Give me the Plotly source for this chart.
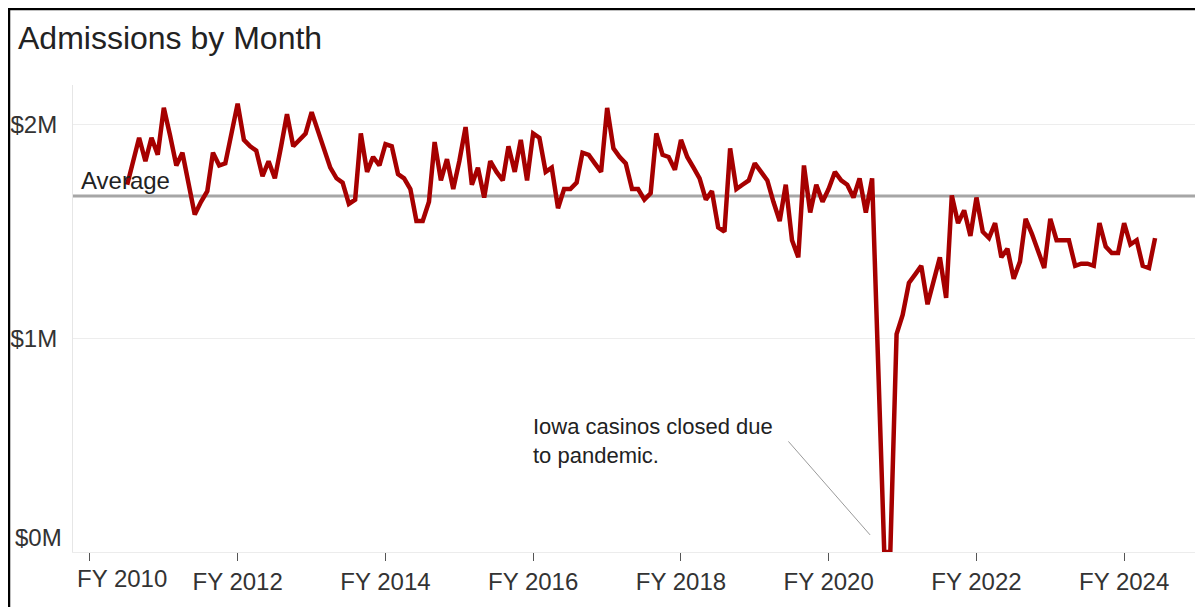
import pandas as pd
import plotly.graph_objects as go

# ---- data (monthly admissions, millions) ----
START_MONTH = "2010-01-01"
admissions_m = [
    1.72, 1.83, 1.94, 1.83, 1.94, 1.86, 2.08, 1.95, 1.81, 1.87, 1.72, 1.58,
    1.64, 1.69, 1.87, 1.81, 1.82, 1.96, 2.10, 1.93, 1.90, 1.88, 1.76, 1.83,
    1.75, 1.90, 2.05, 1.90, 1.93, 1.96, 2.06, 1.97, 1.88, 1.80, 1.75, 1.73,
    1.63, 1.65, 1.96, 1.78, 1.85, 1.81, 1.91, 1.90, 1.77, 1.75, 1.70, 1.55,
    1.55, 1.64, 1.92, 1.74, 1.84, 1.70, 1.83, 1.99, 1.72, 1.80, 1.66, 1.83,
    1.78, 1.74, 1.90, 1.78, 1.93, 1.74, 1.96, 1.94, 1.78, 1.80, 1.61, 1.70,
    1.70, 1.73, 1.87, 1.86, 1.82, 1.78, 2.08, 1.89, 1.85, 1.82, 1.70, 1.70,
    1.65, 1.68, 1.96, 1.86, 1.85, 1.79, 1.93, 1.85, 1.80, 1.75, 1.65, 1.69,
    1.52, 1.50, 1.89, 1.70, 1.72, 1.74, 1.82, 1.78, 1.74, 1.64, 1.55, 1.72,
    1.46, 1.38, 1.81, 1.59, 1.72, 1.64, 1.70, 1.78, 1.74, 1.72, 1.66, 1.75,
    1.59, 1.75, 0.88, 0.00, 0.00, 1.02, 1.11, 1.26, 1.30, 1.34, 1.16, 1.27,
    1.38, 1.19, 1.67, 1.54, 1.60, 1.48, 1.66, 1.50, 1.47, 1.54, 1.38, 1.42,
    1.28, 1.36, 1.56, 1.49, 1.41, 1.33, 1.56, 1.46, 1.46, 1.46, 1.34, 1.35,
    1.35, 1.34, 1.54, 1.43, 1.40, 1.40, 1.54, 1.44, 1.46, 1.34, 1.33, 1.47,
]
months = pd.date_range(START_MONTH, periods=len(admissions_m), freq="MS")

AVERAGE_M = 1.667

fy_tick_dates = ["2009-07-01", "2011-07-01", "2013-07-01", "2015-07-01",
                 "2017-07-01", "2019-07-01", "2021-07-01", "2023-07-01"]
fy_tick_labels = ["FY 2010", "FY 2012", "FY 2014", "FY 2016",
                  "FY 2018", "FY 2020", "FY 2022", "FY 2024"]

y_tick_vals = [0, 1, 2]
y_tick_labels = ["$0M", "$1M", "$2M"]

TITLE = "Admissions by Month"
NOTE = "Iowa casinos closed due<br>to pandemic."
NOTE_TARGET_DATE = "2020-01-22"
NOTE_TEXT_DATE = "2015-06-19"

FONT = "Arial, 'Liberation Sans', sans-serif"
RED = "#a60000"
TXT = "#333333"

# figure geometry (page body has an 8px margin)
W, H = 1195, 599
L, R, T, B = 65, 0, 77, 55
PW, PH = W - L - R, H - T - B

# first tick label and bottom y label are nudged inward (drawn as annotations)
x_ticktext = [""] + fy_tick_labels[1:]
y_ticktext = [""] + y_tick_labels[1:]

fig = go.Figure()
fig.add_trace(go.Scatter(
    x=months, y=admissions_m, mode="lines",
    line=dict(color=RED, width=4.5),
    hoverinfo="x+y", showlegend=False,
))

fig.update_layout(
    width=W, height=H,
    margin=dict(l=L, r=R, t=T, b=B),
    paper_bgcolor="white", plot_bgcolor="white",
    font=dict(family=FONT, color=TXT, size=24),
    title=dict(text=TITLE, x=10 / W, xanchor="left", y=1 - 30 / H,
               yanchor="middle",
               font=dict(family=FONT, size=32, color="#222222")),
    xaxis=dict(
        range=["2009-04-08", "2024-07-25"],
        tickvals=fy_tick_dates, ticktext=x_ticktext,
        ticks="outside", ticklen=8, tickwidth=1, tickcolor="#555555",
        showgrid=False, zeroline=False,
        showline=True, linecolor="#ececec", linewidth=1,
        tickfont=dict(size=24, color=TXT),
    ),
    yaxis=dict(
        range=[0, 2.187],
        tickvals=y_tick_vals, ticktext=y_ticktext,
        ticks="", showgrid=True, gridcolor="#ededed", gridwidth=1,
        zeroline=False, showline=True, linecolor="#e6e6e6", linewidth=1,
        ticklabelstandoff=10,
        tickfont=dict(size=24, color=TXT),
    ),
    shapes=[
        dict(type="line", xref="paper", yref="y", x0=0, x1=1,
             y0=AVERAGE_M, y1=AVERAGE_M, layer="below",
             line=dict(color="#a6a6a6", width=3)),
        dict(type="rect", xref="paper", yref="paper",
             x0=-(L - 1) / PW, x1=(PW - 3) / PW,
             y0=-(B + 20) / PH, y1=1 + (T - 1) / PH,
             line=dict(color="black", width=2.5), fillcolor="rgba(0,0,0,0)"),
    ],
    annotations=[
        dict(text="Average", xref="paper", yref="y", x=6 / PW, y=AVERAGE_M,
             xanchor="left", yanchor="bottom", showarrow=False,
             font=dict(size=24, color="#222222")),
        dict(text=NOTE, xref="x", yref="y", x=NOTE_TEXT_DATE, y=0.656,
             xanchor="left", yanchor="top", align="left", showarrow=False,
             font=dict(size=22, color="#222222")),
        dict(text="", xref="x", yref="y", x=NOTE_TARGET_DATE, y=0.08,
             ax=-83, ay=-95, showarrow=True, arrowhead=0, arrowwidth=1,
             arrowcolor="#9a9a9a"),
        dict(text=fy_tick_labels[0], xref="x", yref="paper",
             x=fy_tick_dates[0], y=0, xanchor="center", yanchor="middle",
             xshift=32, yshift=-26, showarrow=False,
             font=dict(size=24, color=TXT)),
        dict(text=y_tick_labels[0], xref="paper", yref="y",
             x=0, y=y_tick_vals[0], xanchor="right", yanchor="middle",
             xshift=-9, yshift=15, showarrow=False,
             font=dict(size=24, color=TXT)),
    ],
)

fig.write_html("out.html")
